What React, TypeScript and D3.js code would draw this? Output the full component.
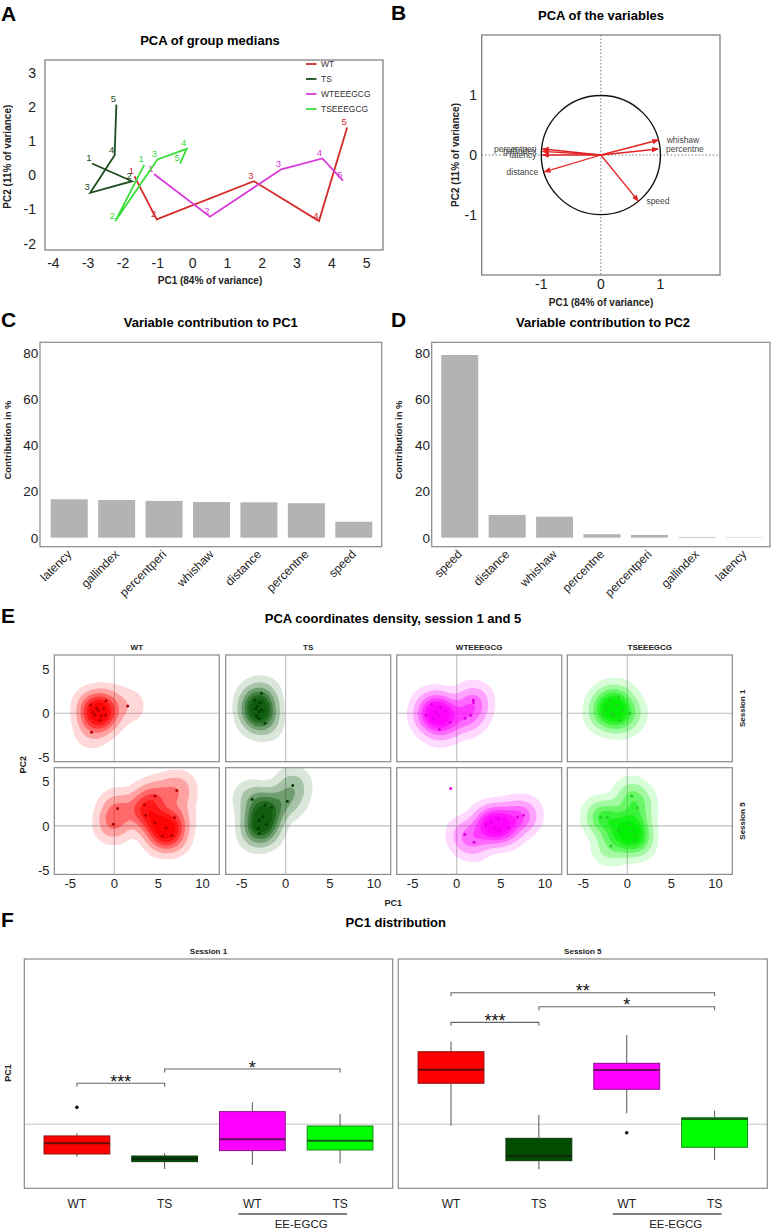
import React from 'react';
import * as d3 from 'd3';

const FONT = '"Liberation Sans", Arial, Helvetica, sans-serif';

// ---------- A: group medians, sessions 1..5
const sessions = ['1', '2', '3', '4', '5'];
const groupNames = ['WT', 'TS', 'WTEEEGCG', 'TSEEEGCG'];
const lineColors = ['#d42a2a', '#1d4d1d', '#d93ad9', '#3adc3a'];
const wtPC1 = [-1.67, -1.03, 1.76, 3.63, 4.44];
const wtPC2 = [-0.03, -1.29, -0.17, -1.34, 1.41];
const tsPC1 = [-2.89, -1.74, -2.94, -2.24, -2.19];
const tsPC2 = [0.35, -0.17, -0.51, 0.59, 2.08];
const wteePC1 = [-1.11, 0.5, 2.55, 3.73, 4.32];
const wteePC2 = [0.04, -1.21, 0.18, 0.5, -0.15];
const tseePC1 = [-1.39, -2.22, -1.01, -0.17, -0.36];
const tseePC2 = [0.31, -1.34, 0.47, 0.78, 0.35];
const aTicksX = [-4, -3, -2, -1, 0, 1, 2, 3, 4, 5];
const aTicksY = [-2, -1, 0, 1, 2, 3];

// ---------- B: variable loadings
const loadVars = ['whishaw', 'percentne', 'speed', 'distance', 'percentperi', 'gallindex', 'latency'];
const loadX = [0.97, 0.96, 0.63, -0.95, -0.98, -0.98, -0.98];
const loadY = [0.25, 0.1, -0.77, -0.28, 0.1, 0.06, 0.0];
const bTicks = [-1, 0, 1];

// ---------- C / D: contributions
const pc1Vars = ['latency', 'gallindex', 'percentperi', 'whishaw', 'distance', 'percentne', 'speed'];
const pc1Contrib = [16.6, 16.3, 15.9, 15.4, 15.3, 14.9, 6.9];
const pc2Vars = ['speed', 'distance', 'whishaw', 'percentne', 'percentperi', 'gallindex', 'latency'];
const pc2Contrib = [79.0, 9.8, 9.1, 1.5, 1.2, 0.3, 0.05];
const contribTicks = [0, 20, 40, 60, 80];

// ---------- E: individual PCA coordinates [PC1, PC2]
const wtS1 = [[-2.68, 0.94], [-0.94, 1.4], [1.52, 0.83], [-2.57, -2.16], [-1.8, 0.3], [-2.2, -0.2], [-1.5, -0.3], [-1.2, 0.5], [-2.0, 0.6], [-1.6, -0.8], [-2.4, 0.1], [-1.0, -0.2]];
const tsS1 = [[-2.73, 2.27], [-2.35, -1.14], [-3.2, 0.8], [-3.0, 0.2], [-3.4, 0.5], [-2.9, 1.2], [-3.3, -0.3], [-3.0, -0.6], [-3.5, 1.5], [-2.7, 0.4]];
const wteS1 = [[-2.84, 1.02], [-1.82, 0.64], [-3.49, -0.23], [-1.97, -1.82], [-0.76, -1.02], [0.94, -0.57], [1.59, -0.23], [1.89, 1.51], [1.89, 1.2], [-2.3, 0.1], [-2.0, -0.3], [-1.3, 0.2], [-2.6, -0.6]];
const tseS1 = [[-2.0, 1.5], [-1.0, 1.8], [-2.5, 0.5], [-0.5, 0.3], [-1.5, -0.3], [-0.8, -0.8], [-2.2, 1.0], [-1.2, 0.9], [0.3, 0.0], [-1.8, 0.0], [-2.8, -0.2]];
const wtS5 = [[0.38, 1.97], [-0.11, 0.19], [3.41, 2.39], [4.62, 3.38], [7.09, 4.01], [3.57, 1.22], [6.82, 0.95], [4.62, 0.34], [5.88, -0.23], [5.45, -1.17], [6.52, -1.1]];
const tsS5 = [[-3.8, 3.03], [-2.35, 2.36], [-1.6, 2.1], [0.8, 4.59], [0.19, 2.8], [-3.0, 0.65], [-3.11, -0.3], [-3.0, -0.86], [-2.6, 1.0], [-2.2, 0.2]];
const wteS5 = [[0.91, -0.98], [1.97, -1.85], [3.3, 0.19], [4.73, 0.83], [5.86, -0.23], [6.89, 1.02], [7.57, 1.22], [4.3, -0.3], [4.8, -0.5], [3.9, 0.4]];
const wteS5Outlier = [[-0.68, 4.25]];
const tseS5 = [[0.5, 3.38], [1.14, 2.05], [-3.02, 1.02], [-2.27, 0.95], [-1.85, -2.27], [0.6, -0.6], [0.9, -1.2], [0.3, 0.2], [-1.0, -0.5], [0.8, -1.8]];
const eRows = ['Session 1', 'Session 5'];
const eTicksX = [-5, 0, 5, 10];
const eTicksY = [-5, 0, 5];

// ---------- F: PC1 boxplots
const fCats = ['WT', 'TS', 'WT', 'TS'];
const s1Lo = [-3.0, -4.14, -3.77, -3.61];
const s1Q1 = [-2.75, -3.46, -2.44, -2.38];
const s1Med = [-1.76, -3.2, -1.39, -1.52];
const s1Q3 = [-1.08, -2.94, 1.17, -0.16];
const s1Hi = [-0.83, -2.69, 2.04, 0.95];
const s1OutGroup = [0];
const s1OutVal = [1.57];
const s1SigFrom = [0, 1];
const s1SigTo = [1, 3];
const s1SigY = [3.8, 5.12];
const s1SigLab = ['***', '*'];
const s5Lo = [-0.13, -4.17, 1.02, -3.31];
const s5Q1 = [3.8, -3.37, 3.24, -2.13];
const s5Med = [5.06, -2.94, 5.03, 0.49];
const s5Q3 = [6.72, -1.3, 5.65, 0.61];
const s5Hi = [7.65, 0.86, 8.27, 1.26];
const s5OutGroup = [2];
const s5OutVal = [-0.78];
const s5SigFrom = [0, 1, 0];
const s5SigTo = [3, 3, 1];
const s5SigY = [12.19, 10.89, 9.44];
const s5SigLab = ['**', '*', '***'];

const densColors = ['#ff0000', '#0b5a0b', '#ff00ff', '#00f000'];
const dotColors = ['#b00000', '#053a05', '#e000e0', '#22d022'];
const boxFill = ['#ff0000', '#004d00', '#ff00ff', '#00ff00'];
const boxStroke = ['#8c1010', '#0f3a0f', '#8c108c', '#178c17'];
const levelFracs = [0.04, 0.15, 0.3, 0.45, 0.6, 0.75];
const levelAlpha = [0.15, 0.25, 0.35, 0.45, 0.6, 0.8];

const Letter = ({ x, y, t }: { x: number; y: number; t: string }) => (
  <text x={x} y={y} fontSize={21} fontWeight="bold" fill="#000">{t}</text>
);

function PanelA() {
  const x = d3.scaleLinear().domain([-4.24, 5.47]).range([45, 383]);
  const y = d3.scaleLinear().domain([-2.19, 3.39]).range([250, 60]);
  const series = [
    d3.zip(wtPC1, wtPC2),
    d3.zip(tsPC1, tsPC2),
    d3.zip(wteePC1, wteePC2),
    d3.zip(tseePC1, tseePC2),
  ];
  const line = d3.line<number[]>().x(d => x(d[0])).y(d => y(d[1]));
  return (
    <g>
      <Letter x={1} y={21} t="A" />
      <text x={210} y={44.5} textAnchor="middle" fontSize={13} fontWeight="bold">PCA of group medians</text>
      <rect x={45} y={60} width={338} height={190} fill="none" stroke="#777" strokeWidth={1.2} />
      {aTicksX.map(t => (
        <text key={t} x={x(t)} y={268} textAnchor="middle" fontSize={14} fill="#222">{t}</text>
      ))}
      {aTicksY.map(t => (
        <text key={t} x={36} y={y(t) + 5} textAnchor="end" fontSize={14} fill="#222">{t}</text>
      ))}
      <text x={210} y={283.5} textAnchor="middle" fontSize={10} fontWeight="bold" fill="#222">PC1 (84% of variance)</text>
      <text transform="translate(11,156.7) rotate(-90)" textAnchor="middle" fontSize={10} fontWeight="bold" fill="#222">PC2 (11% of variance)</text>
      {series.map((s, gi) => (
        <g key={gi}>
          <path d={line(s) || ''} fill="none" stroke={lineColors[gi]} strokeWidth={1.8} />
          {s.map((p, i) => (
            <text key={i} x={x(p[0]) - 3} y={y(p[1]) - 2.5} textAnchor="middle" fontSize={9.5} fill={lineColors[gi]}>{sessions[i]}</text>
          ))}
        </g>
      ))}
      {groupNames.map((g, i) => (
        <g key={g}>
          <line x1={306} x2={316.5} y1={64 + i * 15} y2={64 + i * 15} stroke={lineColors[i]} strokeWidth={1.8} />
          <text x={321} y={64 + i * 15 + 3} fontSize={8.5} fill="#333">{g}</text>
        </g>
      ))}
    </g>
  );
}

function PanelB() {
  const x = d3.scaleLinear().domain([-2, 2]).range([481.7, 720]);
  const y = d3.scaleLinear().domain([-2, 2]).range([275, 35]);
  const r = x(1) - x(0);
  return (
    <g>
      <defs>
        <marker id="arrowB" viewBox="0 0 10 10" refX="9" refY="5" markerUnits="userSpaceOnUse" markerWidth={7} markerHeight={7} orient="auto">
          <path d="M0,1 L10,5 L0,9 z" fill="#e32222" />
        </marker>
      </defs>
      <Letter x={391} y={20} t="B" />
      <text x={601} y={19.5} textAnchor="middle" fontSize={13} fontWeight="bold">PCA of the variables</text>
      <rect x={481.7} y={35} width={238.3} height={240} fill="none" stroke="#777" strokeWidth={1.2} />
      <line x1={x(0)} x2={x(0)} y1={35} y2={275} stroke="#777" strokeDasharray="1.5,2" />
      <line x1={481.7} x2={720} y1={y(0)} y2={y(0)} stroke="#777" strokeDasharray="1.5,2" />
      <circle cx={x(0)} cy={y(0)} r={r} fill="none" stroke="#111" strokeWidth={1.4} />
      {bTicks.map(t => (
        <text key={'x' + t} x={x(t)} y={288.5} textAnchor="middle" fontSize={14} fill="#222">{t}</text>
      ))}
      {bTicks.map(t => (
        <text key={'y' + t} x={477} y={y(t) + 5} textAnchor="end" fontSize={14} fill="#222">{t}</text>
      ))}
      <text x={601} y={306} textAnchor="middle" fontSize={10} fontWeight="bold" fill="#222">PC1 (84% of variance)</text>
      <text transform="translate(458.5,155) rotate(-90)" textAnchor="middle" fontSize={10} fontWeight="bold" fill="#222">PC2 (11% of variance)</text>
      {loadVars.map((v, i) => (
        <g key={v}>
          <line x1={x(0)} y1={y(0)} x2={x(loadX[i])} y2={y(loadY[i])} stroke="#e32222" strokeWidth={1.3} markerEnd="url(#arrowB)" />
          <text
            x={loadX[i] < 0 ? x(loadX[i]) - 6 : x(loadX[i]) + 8}
            y={y(loadY[i]) + 3}
            textAnchor={loadX[i] < 0 ? 'end' : 'start'}
            fontSize={8.5}
            fill="#444"
          >{v}</text>
        </g>
      ))}
    </g>
  );
}

function BarPanel(props: {
  vars: string[]; vals: number[]; left: number; right: number; bandLeft: number; bandRight: number;
  title: string; titleX: number; letter: string; letterX: number; yLabX: number;
}) {
  const { vars, vals, left, right, bandLeft, bandRight } = props;
  const x = d3.scaleBand().domain(vars).range([bandLeft, bandRight]).paddingInner(0.22).paddingOuter(0.11);
  const y = d3.scaleLinear().domain([-3.9, 84.5]).range([546.7, 342.3]);
  return (
    <g>
      <Letter x={props.letterX} y={326.7} t={props.letter} />
      <text x={props.titleX} y={327} textAnchor="middle" fontSize={13} fontWeight="bold">{props.title}</text>
      <rect x={left} y={342.3} width={right - left} height={204.4} fill="none" stroke="#888" strokeWidth={1.2} />
      {vars.map((v, i) => (
        <rect key={v} x={x(v)} y={y(vals[i])} width={x.bandwidth()} height={Math.max(0.4, y(0) - y(vals[i]))} fill="#b3b3b3" />
      ))}
      {contribTicks.map(t => (
        <text key={t} x={left - 1.7} y={y(t) + 5} textAnchor="end" fontSize={13.5} fill="#222">{t}</text>
      ))}
      {vars.map(v => (
        <text key={v} transform={`translate(${(x(v) || 0) + x.bandwidth() / 2 + 3},${555}) rotate(-45)`} textAnchor="end" fontSize={12} fill="#222">{v}</text>
      ))}
      <text transform={`translate(${props.yLabX},440) rotate(-90)`} textAnchor="middle" fontSize={9.5} fontWeight="bold" fill="#222">Contribution in %</text>
    </g>
  );
}

function DensityCell({ pts, extra, L, T, gi, id }: { pts: number[][]; extra: number[][]; L: number; T: number; gi: number; id: string }) {
  const W = 165;
  const H = 106.7;
  const x = d3.scaleLinear().domain([-6.8, 11.9]).range([0, W]);
  const y = d3.scaleLinear().domain([-5.5, 6.6]).range([H, 0]);
  const density = d3.contourDensity<number[]>()
    .x(d => x(d[0]))
    .y(d => y(d[1]))
    .size([W, H])
    .cellSize(2)
    .bandwidth(9.5);
  let polys: any[] = [];
  const anyD = density as any;
  if (typeof anyD.contours === 'function') {
    const c = anyD.contours(pts);
    polys = levelFracs.map(f => c(f * c.max));
  } else {
    polys = density.thresholds(7)(pts).slice(1);
  }
  const path = d3.geoPath();
  return (
    <g transform={`translate(${L},${T})`}>
      <defs>
        <clipPath id={id}><rect x={0} y={0} width={W} height={H} /></clipPath>
      </defs>
      <line x1={x(0)} x2={x(0)} y1={0} y2={H} stroke="#bdbdbd" strokeWidth={1.1} />
      <line x1={0} x2={W} y1={y(0)} y2={y(0)} stroke="#bdbdbd" strokeWidth={1.1} />
      <g clipPath={`url(#${id})`}>
        {polys.map((p, i) => (
          <path key={i} d={path(p) || ''} fill={densColors[gi]} fillOpacity={levelAlpha[i] ?? 0.3} stroke="none" />
        ))}
        {pts.concat(extra).map((p, i) => (
          <circle key={i} cx={x(p[0])} cy={y(p[1])} r={1.5} fill={dotColors[gi]} />
        ))}
      </g>
      <rect x={0} y={0} width={W} height={H} fill="none" stroke="#8a8a8a" strokeWidth={1.2} />
    </g>
  );
}

function PanelE() {
  const lefts = [54.3, 225.7, 396.7, 567.3];
  const tops = [655, 767.7];
  const cells = [[wtS1, tsS1, wteS1, tseS1], [wtS5, tsS5, wteS5, tseS5]];
  const extras = [[[], [], [], []], [[], [], wteS5Outlier, []]];
  const x = d3.scaleLinear().domain([-6.8, 11.9]).range([0, 165]);
  const y = d3.scaleLinear().domain([-5.5, 6.6]).range([106.7, 0]);
  return (
    <g>
      <Letter x={1} y={623} t="E" />
      <text x={393} y={623} textAnchor="middle" fontSize={13} fontWeight="bold">PCA coordinates density, session 1 and 5</text>
      {groupNames.map((g, c) => (
        <text key={g} x={lefts[c] + 82.5} y={649.5} textAnchor="middle" fontSize={8} fontWeight="bold" fill="#222">{g}</text>
      ))}
      {eRows.map((r, ri) => (
        <text key={r} transform={`translate(744.5,${tops[ri] + 53.3}) rotate(-90)`} textAnchor="middle" fontSize={8} fontWeight="bold" fill="#222">{r}</text>
      ))}
      {cells.map((row, ri) => row.map((pts, c) => (
        <DensityCell key={ri + '-' + c} pts={pts} extra={extras[ri][c] as number[][]} L={lefts[c]} T={tops[ri]} gi={c} id={`clipE${ri}${c}`} />
      )))}
      {tops.map((t, ri) => eTicksY.map(v => (
        <text key={ri + ':' + v} x={49.5} y={t + y(v) + 4.6} textAnchor="end" fontSize={13} fill="#222">{v}</text>
      )))}
      {lefts.map((l, c) => eTicksX.map(v => (
        <text key={c + ':' + v} x={l + x(v)} y={888} textAnchor="middle" fontSize={13} fill="#222">{v}</text>
      )))}
      <text x={393.3} y={906} textAnchor="middle" fontSize={9} fontWeight="bold" fill="#222">PC1</text>
      <text transform="translate(26,764.7) rotate(-90)" textAnchor="middle" fontSize={9} fontWeight="bold" fill="#222">PC2</text>
    </g>
  );
}

function PanelF() {
  const y = d3.scaleLinear().domain([-5.93, 15.31]).range([1188.3, 959]);
  const facets = [
    { name: 'Session 1', x0: 24.3, x1: 392.7, lo: s1Lo, q1: s1Q1, med: s1Med, q3: s1Q3, hi: s1Hi, og: s1OutGroup, ov: s1OutVal, sf: s1SigFrom, st: s1SigTo, sy: s1SigY, sl: s1SigLab },
    { name: 'Session 5', x0: 398.3, x1: 767.3, lo: s5Lo, q1: s5Q1, med: s5Med, q3: s5Q3, hi: s5Hi, og: s5OutGroup, ov: s5OutVal, sf: s5SigFrom, st: s5SigTo, sy: s5SigY, sl: s5SigLab },
  ];
  return (
    <g>
      <Letter x={1} y={926.5} t="F" />
      <text x={395.8} y={927} textAnchor="middle" fontSize={13} fontWeight="bold">PC1 distribution</text>
      <text transform="translate(10.5,1073) rotate(-90)" textAnchor="middle" fontSize={9} fontWeight="bold" fill="#222">PC1</text>
      {facets.map(f => {
        const x = d3.scalePoint<number>().domain([0, 1, 2, 3]).range([f.x0, f.x1]).padding(0.6);
        const bw = x.step() * 0.75;
        return (
          <g key={f.name}>
            <text x={(f.x0 + f.x1) / 2} y={953.5} textAnchor="middle" fontSize={8} fontWeight="bold" fill="#222">{f.name}</text>
            <line x1={f.x0} x2={f.x1} y1={y(0)} y2={y(0)} stroke="#c4c4c4" strokeWidth={1.1} />
            {fCats.map((c, i) => {
              const cx = x(i) || 0;
              return (
                <g key={i}>
                  <line x1={cx} x2={cx} y1={y(f.hi[i])} y2={y(f.q3[i])} stroke="#555" strokeWidth={1} />
                  <line x1={cx} x2={cx} y1={y(f.q1[i])} y2={y(f.lo[i])} stroke="#555" strokeWidth={1} />
                  <rect x={cx - bw / 2} y={y(f.q3[i])} width={bw} height={y(f.q1[i]) - y(f.q3[i])} fill={boxFill[i]} stroke={boxStroke[i]} strokeWidth={1} />
                  <line x1={cx - bw / 2} x2={cx + bw / 2} y1={y(f.med[i])} y2={y(f.med[i])} stroke={d3.color(boxStroke[i])!.darker(1).formatHex()} strokeWidth={2} />
                  <text x={cx} y={1207.6} textAnchor="middle" fontSize={12} fill="#222">{c}</text>
                </g>
              );
            })}
            {f.og.map((g, i) => (
              <circle key={i} cx={x(g) || 0} cy={y(f.ov[i])} r={1.8} fill="#111" />
            ))}
            {f.sf.map((a, i) => {
              const xa = x(a) || 0;
              const xb = x(f.st[i]) || 0;
              const yy = y(f.sy[i]);
              return (
                <g key={i}>
                  <path d={`M${xa},${yy + 3.5}V${yy}H${xb}V${yy + 3.5}`} fill="none" stroke="#666" strokeWidth={1.1} />
                  <text x={(xa + xb) / 2} y={yy + 4.7} textAnchor="middle" fontSize={18} fill="#111">{f.sl[i]}</text>
                </g>
              );
            })}
            <line x1={(x(2) || 0) - 14} x2={(x(3) || 0) + 7} y1={1214} y2={1214} stroke="#555" strokeWidth={1.4} />
            <text x={((x(2) || 0) + (x(3) || 0)) / 2 + 5} y={1227.5} textAnchor="middle" fontSize={11.5} fill="#222">EE-EGCG</text>
            <rect x={f.x0} y={959} width={f.x1 - f.x0} height={229.3} fill="none" stroke="#8a8a8a" strokeWidth={1.2} />
          </g>
        );
      })}
    </g>
  );
}

export default function App() {
  return (
    <svg width={775} height={1231} fontFamily={FONT} style={{ position: 'absolute', left: 0, top: 0, background: '#fff' }}>
      <rect width={775} height={1231} fill="#fff" />
      <PanelA />
      <PanelB />
      <BarPanel vars={pc1Vars} vals={pc1Contrib} left={40} right={381.7} bandLeft={45.5} bandRight={377.5}
        title="Variable contribution to PC1" titleX={210.8} letter="C" letterX={1} yLabX={10.5} />
      <BarPanel vars={pc2Vars} vals={pc2Contrib} left={431.7} right={770} bandLeft={436} bandRight={768}
        title="Variable contribution to PC2" titleX={603} letter="D" letterX={391} yLabX={401.5} />
      <PanelE />
      <PanelF />
    </svg>
  );
}
